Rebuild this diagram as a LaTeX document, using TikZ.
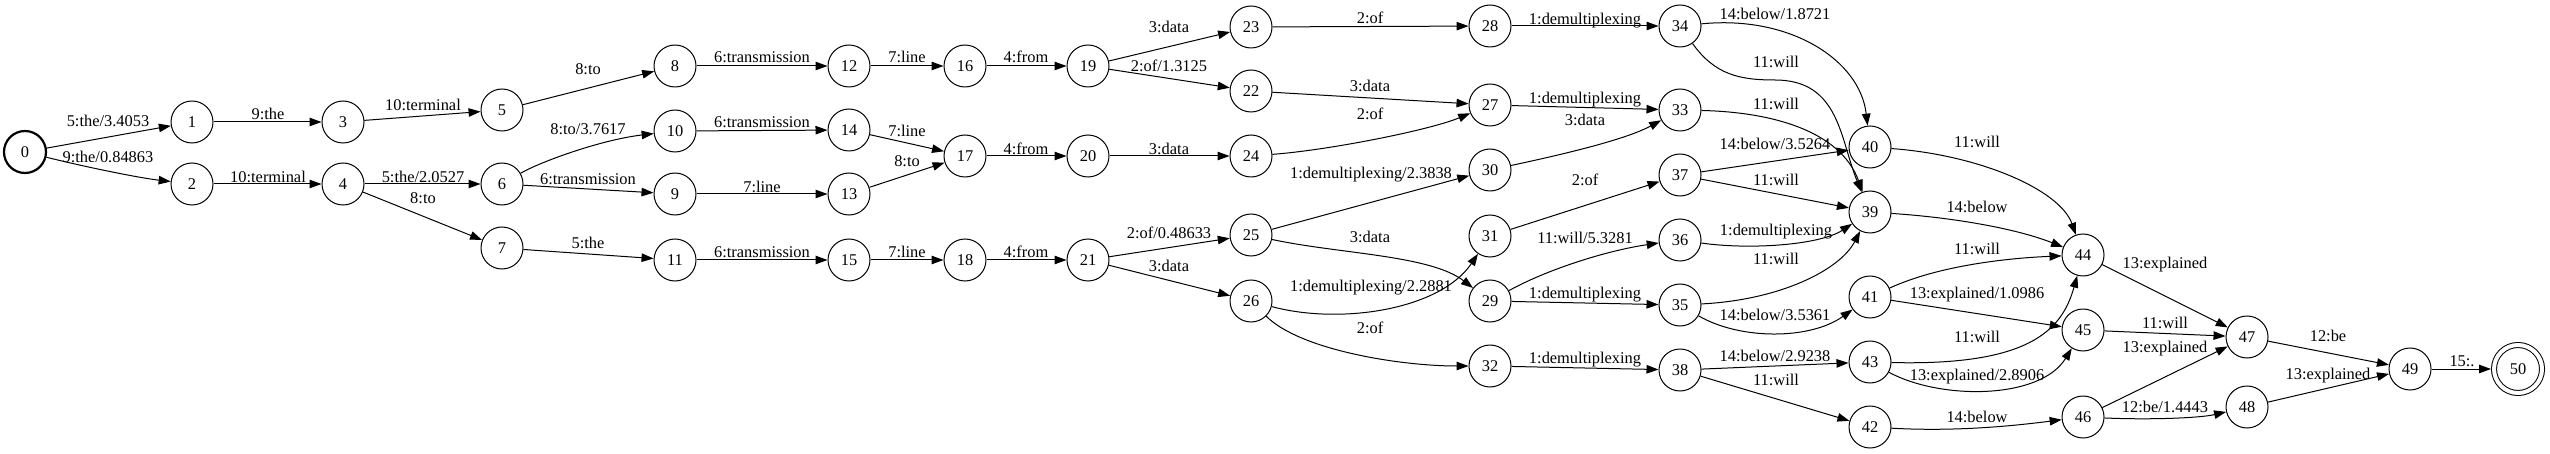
\documentclass[tikz,border=0pt]{standalone}
\usepackage{fontspec}
\setmainfont{Liberation Serif}
\usetikzlibrary{arrows.meta}
\begin{document}
\begin{tikzpicture}[x=1pt,y=-1pt,
 st/.style={circle,draw,line width=1pt,minimum size=42pt,inner sep=0pt,font=\fontsize{16.4}{19}\selectfont},
 init/.style={st,line width=2.2pt},
 fin/.style={st,double,double distance=4pt,minimum size=48pt,outer sep=3pt},
 e/.style={line width=1pt,-{Triangle[length=12pt,width=8.5pt]}},
 lab/.style={font=\fontsize{16.4}{19}\selectfont,inner sep=0pt,text height=11.2pt,text depth=0pt,anchor=center}]
\useasboundingbox (0,0) rectangle (2550,454);
\node[init] (n0) at (25,152) {0};
\node[st] (n1) at (192,122) {1};
\node[st] (n2) at (192,184) {2};
\node[st] (n3) at (343,122) {3};
\node[st] (n4) at (343,184) {4};
\node[st] (n5) at (502,110) {5};
\node[st] (n6) at (502,184) {6};
\node[st] (n7) at (502,248) {7};
\node[st] (n8) at (675,66) {8};
\node[st] (n10) at (675,131) {10};
\node[st] (n9) at (675,194) {9};
\node[st] (n11) at (675,260) {11};
\node[st] (n12) at (849,66) {12};
\node[st] (n14) at (849,130) {14};
\node[st] (n13) at (849,194) {13};
\node[st] (n15) at (849,260) {15};
\node[st] (n16) at (965,66) {16};
\node[st] (n17) at (965,156) {17};
\node[st] (n18) at (965,260) {18};
\node[st] (n19) at (1088,66) {19};
\node[st] (n20) at (1088,156) {20};
\node[st] (n21) at (1088,260) {21};
\node[st] (n23) at (1251,27) {23};
\node[st] (n22) at (1251,91) {22};
\node[st] (n24) at (1251,156) {24};
\node[st] (n25) at (1251,235) {25};
\node[st] (n26) at (1251,301) {26};
\node[st] (n28) at (1490,26) {28};
\node[st] (n27) at (1490,105) {27};
\node[st] (n30) at (1490,170) {30};
\node[st] (n31) at (1490,236) {31};
\node[st] (n29) at (1490,301) {29};
\node[st] (n32) at (1490,366) {32};
\node[st] (n34) at (1680,26) {34};
\node[st] (n33) at (1680,110) {33};
\node[st] (n37) at (1680,175) {37};
\node[st] (n36) at (1680,240) {36};
\node[st] (n35) at (1680,305) {35};
\node[st] (n38) at (1680,370) {38};
\node[st] (n40) at (1870,147) {40};
\node[st] (n39) at (1870,212) {39};
\node[st] (n41) at (1870,297) {41};
\node[st] (n43) at (1870,362) {43};
\node[st] (n42) at (1870,427) {42};
\node[st] (n44) at (2083,255) {44};
\node[st] (n45) at (2083,330) {45};
\node[st] (n46) at (2083,417) {46};
\node[st] (n47) at (2247,337) {47};
\node[st] (n48) at (2247,407) {48};
\node[st] (n49) at (2410,369) {49};
\node[fin] (n50) at (2518,369) {50};

\draw[e] (n0) -- (n1) node[lab] at (108,121) {5:the/3.4053};
\draw[e] (n0) .. controls (90,168) and (140,178) .. (n2) node[lab] at (108,157) {9:the/0.84863};
\draw[e] (n1) -- (n3) node[lab] at (268,114) {9:the};
\draw[e] (n2) -- (n4) node[lab] at (268,177) {10:terminal};
\draw[e] (n3) -- (n5) node[lab] at (423,105) {10:terminal};
\draw[e] (n4) -- (n6) node[lab] at (423,177) {5:the/2.0527};
\draw[e] (n4) -- (n7) node[lab] at (423,198) {8:to};
\draw[e] (n5) -- (n8) node[lab] at (588,69) {8:to};
\draw[e] (n6) .. controls (540,162) and (600,140) .. (n10) node[lab] at (588,129) {8:to/3.7617};
\draw[e] (n6) -- (n9) node[lab] at (588,179) {6:transmission};
\draw[e] (n7) -- (n11) node[lab] at (588,243) {5:the};
\draw[e] (n8) -- (n12) node[lab] at (762,57) {6:transmission};
\draw[e] (n10) -- (n14) node[lab] at (762,122) {6:transmission};
\draw[e] (n9) -- (n13) node[lab] at (762,187) {7:line};
\draw[e] (n11) -- (n15) node[lab] at (762,252) {6:transmission};
\draw[e] (n12) -- (n16) node[lab] at (907,57) {7:line};
\draw[e] (n16) -- (n19) node[lab] at (1026,57) {4:from};
\draw[e] (n14) -- (n17) node[lab] at (907,131) {7:line};
\draw[e] (n13) -- (n17) node[lab] at (907,161) {8:to};
\draw[e] (n17) -- (n20) node[lab] at (1026,149) {4:from};
\draw[e] (n15) -- (n18) node[lab] at (907,252) {7:line};
\draw[e] (n18) -- (n21) node[lab] at (1026,252) {4:from};
\draw[e] (n19) -- (n23) node[lab] at (1169,27) {3:data};
\draw[e] (n19) -- (n22) node[lab] at (1169,66) {2:of/1.3125};
\draw[e] (n20) -- (n24) node[lab] at (1169,149) {3:data};
\draw[e] (n21) -- (n25) node[lab] at (1169,233) {2:of/0.48633};
\draw[e] (n21) -- (n26) node[lab] at (1169,266) {3:data};
\draw[e] (n23) -- (n28) node[lab] at (1370,18) {2:of};
\draw[e] (n28) -- (n34) node[lab] at (1585,19) {1:demultiplexing};
\draw[e] (n22) -- (n27) node[lab] at (1370,86) {3:data};
\draw[e] (n24) .. controls (1330,150) and (1430,130) .. (n27) node[lab] at (1370,114) {2:of};
\draw[e] (n27) -- (n33) node[lab] at (1585,98) {1:demultiplexing};
\draw[e] (n30) .. controls (1560,155) and (1625,140) .. (n33) node[lab] at (1585,120) {3:data};
\draw[e] (n25) -- (n30) node[lab] at (1371,173) {1:demultiplexing/2.3838};
\draw[e] (n31) -- (n37) node[lab] at (1585,180) {2:of};
\draw[e] (n25) .. controls (1340,254) and (1430,255) .. (n29) node[lab] at (1370,237) {3:data};
\draw[e] (n26) .. controls (1340,325) and (1440,310) .. (n31) node[lab] at (1371,286) {1:demultiplexing/2.2881};
\draw[e] (n29) .. controls (1550,268) and (1610,250) .. (n36) node[lab] at (1585,238) {11:will/5.3281};
\draw[e] (n29) -- (n35) node[lab] at (1585,293) {1:demultiplexing};
\draw[e] (n26) .. controls (1300,350) and (1400,366) .. (n32) node[lab] at (1370,328) {2:of};
\draw[e] (n32) -- (n38) node[lab] at (1585,358) {1:demultiplexing};
\draw[e] (n34) .. controls (1790,15) and (1860,60) .. (n40) node[lab] at (1775,14) {14:below/1.8721};
\draw[e] (n34) .. controls (1715,75) and (1740,80) .. (1775,80) .. controls (1840,80) and (1840,140) .. (n39) node[lab] at (1776,62) {11:will};
\draw[e] (n33) .. controls (1770,112) and (1840,130) .. (n39) node[lab] at (1776,104) {11:will};
\draw[e] (n37) -- (n40) node[lab] at (1775,144) {14:below/3.5264};
\draw[e] (n37) -- (n39) node[lab] at (1776,180) {11:will};
\draw[e] (n36) .. controls (1750,250) and (1820,245) .. (n39) node[lab] at (1776,230) {1:demultiplexing};
\draw[e] (n35) .. controls (1780,300) and (1840,270) .. (n39) node[lab] at (1776,259) {11:will};
\draw[e] (n35) .. controls (1740,340) and (1810,340) .. (n41) node[lab] at (1775,315) {14:below/3.5361};
\draw[e] (n38) -- (n43) node[lab] at (1775,356) {14:below/2.9238};
\draw[e] (n38) -- (n42) node[lab] at (1776,380) {11:will};
\draw[e] (n40) .. controls (1980,155) and (2060,190) .. (n44) node[lab] at (1977,142) {11:will};
\draw[e] (n39) .. controls (1960,218) and (2020,230) .. (n44) node[lab] at (1977,207) {14:below};
\draw[e] (n41) .. controls (1940,265) and (2010,258) .. (n44) node[lab] at (1977,249) {11:will};
\draw[e] (n41) -- (n45) node[lab] at (1977,293) {13:explained/1.0986};
\draw[e] (n43) .. controls (2030,366) and (2062,330) .. (n44) node[lab] at (1977,337) {11:will};
\draw[e] (n43) .. controls (1940,400) and (2040,400) .. (n45) node[lab] at (1977,375) {13:explained/2.8906};
\draw[e] (n42) .. controls (1960,432) and (2020,425) .. (n46) node[lab] at (1977,417) {14:below};
\draw[e] (n44) -- (n47) node[lab] at (2165,263) {13:explained};
\draw[e] (n45) -- (n47) node[lab] at (2165,323) {11:will};
\draw[e] (n46) -- (n47) node[lab] at (2165,347) {13:explained};
\draw[e] (n46) .. controls (2150,420) and (2200,418) .. (n48) node[lab] at (2165,407) {12:be/1.4443};
\draw[e] (n47) -- (n49) node[lab] at (2328,336) {12:be};
\draw[e] (n48) -- (n49) node[lab] at (2328,374) {13:explained};
\draw[e] (n49) -- (n50) node[lab] at (2462,361) {15:.};
\end{tikzpicture}
\end{document}
